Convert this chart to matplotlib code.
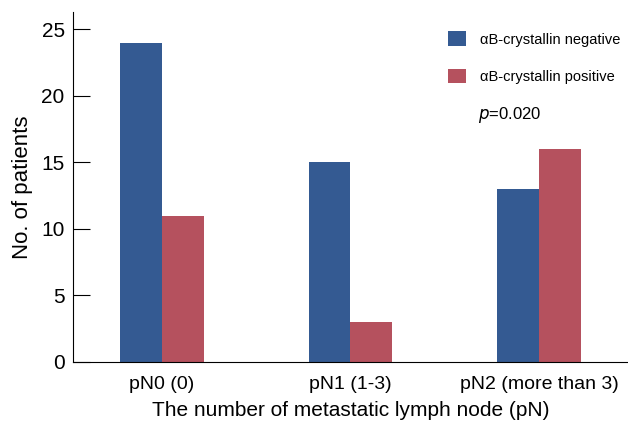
import numpy as np
import matplotlib.pyplot as plt

plt.rcParams['font.family'] = ['Liberation Sans Narrow', 'Liberation Sans', 'DejaVu Sans']

groups = ['pN0 (0)', 'pN1 (1-3)', 'pN2 (more than 3)']
negative = [24, 15, 13]
positive = [11, 3, 16]

x = np.arange(len(groups))
w = 0.222

fig = plt.figure(figsize=(6.28, 4.22), dpi=100)
ax = fig.add_axes([0.1162, 0.1422, 0.8838, 0.8294])

ax.bar(x - w / 2, negative, w, color='#345a92', label='\u03b1B-crystallin negative')
ax.bar(x + w / 2, positive, w, color='#b5515e', label='\u03b1B-crystallin positive')

ax.set_xlim(-0.47, 2.47)
ax.set_ylim(0, 26.3)
ax.set_yticks([0, 5, 10, 15, 20, 25])
ax.set_xticks(x)
ax.set_xticklabels(groups)
ax.tick_params(axis='y', direction='in', length=12, labelsize=15, pad=6)
ax.tick_params(axis='x', length=0, labelsize=14, pad=10)
for s in ['top', 'right']:
    ax.spines[s].set_visible(False)

ax.set_xlabel('The number of metastatic lymph node (pN)', fontsize=15, labelpad=6)
ax.set_ylabel('No. of patients', fontsize=16, labelpad=6)

ax.legend(loc='upper left', bbox_to_anchor=(0.676, 0.945), frameon=False, fontsize=10.5,
          borderaxespad=0, borderpad=0,
          handlelength=1.2, handleheight=1.2, labelspacing=1.5, handletextpad=1.0)
ax.text(0.73, 0.706, '$p$=0.020', transform=ax.transAxes, fontsize=12, va='center')

fig.savefig('out.png', dpi=100)
